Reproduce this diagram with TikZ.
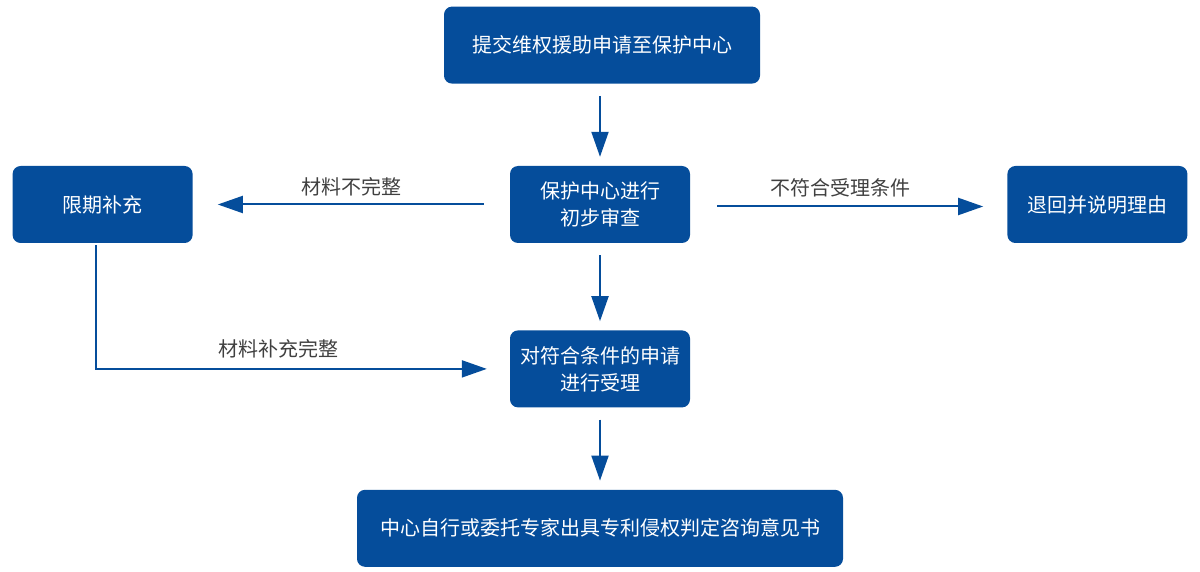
\documentclass[tikz,border=0pt]{standalone}
\usepackage{fontspec}
\setmainfont{Noto Sans CJK SC}
\usetikzlibrary{arrows.meta,positioning}
\definecolor{boxblue}{HTML}{054D9B}
\definecolor{labelgray}{HTML}{404040}

\begin{document}
\begin{tikzpicture}[x=1pt, y=1pt,
			rec/.style  = {fill=boxblue, text=white, rounded corners=8pt, align=center, inner sep=0pt,
				minimum height=77pt, font=\fontsize{20pt}{27pt}\selectfont},
			small/.style = {rec, minimum width=180pt},
			wide/.style  = {rec, minimum width=486pt},
			lbl/.style   = {text=labelgray, inner sep=0pt, font=\fontsize{20pt}{24pt}\selectfont},
			flow/.style  = {->, draw=boxblue, line width=2pt},
			>={Triangle[length=25pt, width=17pt]}]
			
			\useasboundingbox (0,0) rectangle (1200,-572);
			
			% the middle column, review box first
			\node[small] (review) at (600,-204.5) {保护中心进行\\初步审查};
			\node[rec, minimum width=316pt, above=82pt of review, xshift=2pt] (submit) {提交维权援助申请至保护中心};
			\node[small, below=87pt of review] (accept) {对符合条件的申请\\进行受理};
			\node[wide, below=82pt of accept] (opinion) {中心自行或委托专家出具专利侵权判定咨询意见书};
			
			% side boxes
			\node[small, left=317pt of review] (supplement) {限期补充};
			\node[small, right=317pt of review] (returnbox) {退回并说明理由};
			
			% downward arrows of the column
			\foreach \from/\to in {submit/review, review/accept, accept/opinion}
			\draw[flow, shorten <=12pt, shorten >=9pt] (\from.south -| \to) -- (\to.north);
			
			% sideways arrows with their labels
			\draw[flow, shorten <=26pt, shorten >=25pt] (review.west) -- node[lbl, midway, yshift=18pt] {材料不完整} (supplement.east);
			\draw[flow, shorten <=27pt, shorten >=24pt] ([yshift=-2pt]review.east) -- node[lbl, midway, yshift=19pt, xshift=-8pt] {不符合受理条件} ([yshift=-2pt]returnbox.west);
			\draw[flow, shorten <=2pt, shorten >=23pt] ([xshift=-6.5pt]supplement.south) |- node[lbl, pos=0.72, yshift=20pt] {材料补充完整} (accept.west);
		\end{tikzpicture}
\end{document}
